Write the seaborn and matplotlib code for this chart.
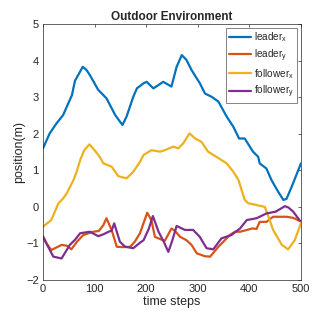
import pandas as pd
import matplotlib
matplotlib.use("Agg")
import matplotlib.pyplot as plt
import seaborn as sns

# values
leader_x_t = [0, 13, 26, 39, 49, 56, 62, 70, 77, 84, 91, 107, 123, 140, 154, 162, 175, 182, 195,
              201, 214, 233, 249, 259, 269, 278, 288, 304, 314, 327, 340, 356, 369, 380, 391, 407,
              417, 420, 433, 443, 456, 466, 472, 482, 491, 500]
leader_x = [1.6, 2.01, 2.28, 2.51, 2.83, 3.05, 3.45, 3.65, 3.83, 3.75, 3.6, 3.2, 2.97, 2.51, 2.24,
            2.47, 3.01, 3.24, 3.38, 3.42, 3.24, 3.42, 3.29, 3.83, 4.15, 4.02, 3.74, 3.38, 3.1, 3.01,
            2.88, 2.47, 2.19, 1.87, 1.87, 1.51, 1.37, 1.19, 1.05, 0.73, 0.41, 0.19, 0.22, 0.55,
            0.87, 1.19]

leader_y_t = [0, 7, 16, 36, 46, 55, 66, 78, 97, 108, 117, 123, 133, 143, 153, 169, 178, 188, 202,
              210, 217, 227, 236, 249, 256, 266, 278, 288, 298, 314, 324, 340, 362, 372, 382, 398,
              405, 414, 420, 433, 446, 459, 472, 485, 500]
leader_y = [-0.8, -1.0, -1.18, -1.04, -1.06, -1.16, -0.95, -0.77, -0.68, -0.66, -0.5, -0.31, -0.63,
            -1.09, -1.1, -1.09, -0.95, -0.72, -0.16, -0.36, -0.82, -0.88, -0.93, -0.59, -0.66,
            -0.82, -0.91, -1.04, -1.27, -1.35, -1.36, -1.09, -0.77, -0.68, -0.68, -0.62, -0.59,
            -0.6, -0.41, -0.41, -0.27, -0.27, -0.27, -0.3, -0.4]

follower_x_t = [0, 16, 30, 39, 46, 59, 65, 72, 80, 90, 97, 110, 117, 133, 146, 162, 175, 188, 195,
                210, 227, 236, 253, 262, 272, 284, 295, 307, 320, 336, 356, 369, 379, 391, 398, 414,
                430, 438, 446, 463, 475, 488, 500]
follower_x = [-0.54, -0.36, 0.1, 0.23, 0.37, 0.73, 0.95, 1.28, 1.55, 1.71, 1.6, 1.37, 1.19, 1.1,
              0.84, 0.78, 0.96, 1.23, 1.42, 1.55, 1.51, 1.55, 1.65, 1.6, 1.74, 2.01, 1.87, 1.78,
              1.51, 1.37, 1.19, 0.96, 0.73, 0.19, 0.1, 0.05, 0.0, -0.3, -0.63, -1.04, -1.16, -0.91,
              -0.45]

follower_y_t = [0, 10, 20, 36, 52, 62, 72, 91, 107, 117, 127, 133, 138, 149, 159, 175, 188, 195,
                205, 213, 224, 234, 243, 251, 259, 275, 291, 304, 317, 330, 346, 365, 382, 395, 414,
                433, 451, 469, 476, 485, 498]
follower_y = [-0.82, -1.09, -1.36, -1.41, -1.04, -0.9, -0.72, -0.68, -0.8, -0.75, -0.68, -0.65,
              -0.45, -0.95, -1.09, -1.13, -0.98, -0.91, -0.6, -0.25, -0.68, -0.95, -1.23, -0.9,
              -0.52, -0.63, -0.63, -0.82, -1.13, -1.16, -0.86, -0.77, -0.59, -0.36, -0.31, -0.18,
              -0.13, 0.02, -0.02, -0.13, -0.38]

labels = ["leader$_x$", "leader$_y$", "follower$_x$", "follower$_y$"]
colors = ["#0072BD", "#D95319", "#EDB120", "#7E2F8E"]

frames = []
for lab, t, v in zip(labels,
                     [leader_x_t, leader_y_t, follower_x_t, follower_y_t],
                     [leader_x, leader_y, follower_x, follower_y]):
    frames.append(pd.DataFrame({"t": t, "pos": v, "series": lab}))
df = pd.concat(frames, ignore_index=True)

sns.set_style("white")
plt.rcParams['font.family'] = ['Liberation Sans', 'DejaVu Sans']
plt.rcParams['mathtext.fontset'] = 'custom'
plt.rcParams['mathtext.rm'] = 'Liberation Sans'
plt.rcParams['mathtext.it'] = 'Liberation Sans'

fig = plt.figure(figsize=(3.32, 3.15), dpi=100)
ax = fig.add_axes([0.1295, 0.111, 0.777, 0.8127])

sns.lineplot(data=df, x="t", y="pos", hue="series", hue_order=labels,
             palette=colors, estimator=None, sort=False, linewidth=1.6, ax=ax)

ax.set_xlim(0, 500)
ax.set_ylim(-2, 5)
ax.set_xticks([0, 100, 200, 300, 400, 500])
ax.set_yticks(range(-2, 6))
ax.tick_params(direction="in", length=2.5, width=0.5, labelsize=8, colors="#262626",
               top=True, right=True, pad=3)
for s in ax.spines.values():
    s.set_linewidth(0.5)
    s.set_color("#262626")

ax.set_title("Outdoor Environment", fontsize=8.5, fontweight="bold", pad=3)
ax.set_xlabel("time steps", fontsize=9, color="#262626", labelpad=1)
ax.set_ylabel("position(m)", fontsize=9, color="#262626", labelpad=1)

leg = ax.legend(loc="upper right", fontsize=7.2, frameon=True, fancybox=False,
                edgecolor="#262626", handlelength=2.2, labelspacing=0.3,
                borderpad=0.3, handletextpad=0.3, borderaxespad=0.35)
leg.get_frame().set_linewidth(0.5)

fig.savefig("out.png", dpi=100)
